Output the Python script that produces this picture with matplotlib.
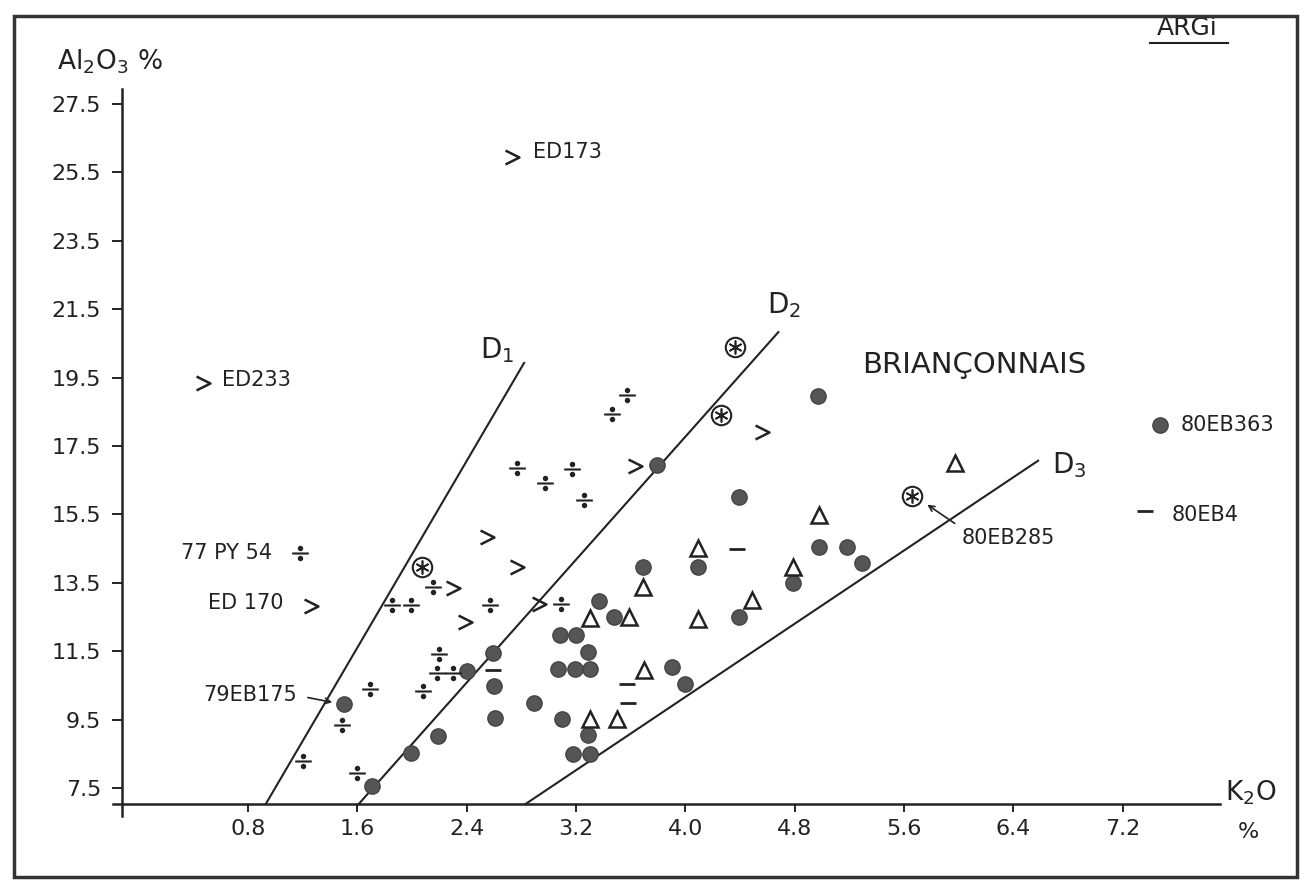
import matplotlib
matplotlib.use('Agg')
import matplotlib.pyplot as plt
from matplotlib.path import Path

# data: K2O % (x) and Al2O3 % (y) per symbol
circle_k = [1.50, 1.71, 1.99, 2.19, 2.40, 2.59, 2.60, 2.61, 2.89, 3.10, 3.29, 3.18,
            3.30, 3.08, 3.20, 3.29, 3.07, 3.19, 3.30, 3.37, 3.48, 3.69, 4.09, 3.90,
            4.00, 4.39, 4.39, 3.79, 4.97, 4.79, 4.98, 5.18, 5.29, 7.47]
circle_a = [9.96, 7.56, 8.52, 9.02, 10.92, 11.45, 10.48, 9.55, 9.99, 9.52, 9.05, 8.49,
            8.49, 11.97, 11.97, 11.48, 10.98, 10.98, 10.98, 12.97, 12.50, 13.96, 13.96, 11.04,
            10.54, 12.50, 16.01, 16.94, 18.96, 13.49, 14.55, 14.55, 14.08, 18.11]

tri_k = [4.09, 3.69, 3.30, 3.59, 4.09, 4.49, 4.79, 4.98, 5.97, 3.70, 3.30, 3.50]
tri_a = [14.52, 13.38, 12.47, 12.50, 12.44, 13.00, 13.96, 15.48, 17.00, 10.95, 9.52, 9.52]

div_k = [1.18, 1.85, 1.99, 2.15, 2.57, 3.09, 2.20, 2.18, 2.30, 2.08, 1.69, 1.49,
         1.20, 1.60, 2.77, 2.97, 3.17, 3.26, 3.46, 3.57]
div_a = [14.37, 12.85, 12.85, 13.38, 12.85, 12.88, 11.42, 10.86, 10.86, 10.34, 10.39, 9.34,
         8.29, 7.94, 16.86, 16.42, 16.83, 15.92, 18.44, 18.99]

chev_k = [2.73, 0.47, 1.26, 2.30, 2.55, 2.77, 2.39, 2.93, 3.63, 4.56]
chev_a = [25.95, 19.34, 12.82, 13.35, 14.84, 13.96, 12.35, 12.88, 16.92, 17.91]

star_k = [2.07, 4.36, 4.26, 5.66]
star_a = [13.96, 20.39, 18.41, 16.04]

dash_k = [2.59, 4.38, 3.57, 3.58, 7.36]
dash_a = [10.95, 14.49, 10.54, 9.99, 15.60]

# boundary lines D1, D2, D3
d1_k, d1_a = [0.93, 2.82], [7.03, 19.93]
d2_k, d2_a = [1.61, 4.68], [7.03, 20.83]
d3_k, d3_a = [2.83, 6.58], [7.03, 17.07]

x_ticks = [0.8, 1.6, 2.4, 3.2, 4.0, 4.8, 5.6, 6.4, 7.2]
y_ticks = [7.5, 9.5, 11.5, 13.5, 15.5, 17.5, 19.5, 21.5, 23.5, 25.5, 27.5]

ink = '#222222'
plt.rcParams['font.family'] = ['DejaVu Sans']

fig = plt.figure(figsize=(13, 8.82), dpi=100)
fig.patch.set_facecolor('white')
ax = fig.add_axes([0, 0, 1, 1])
ax.set_xlim(-1.014, 8.496)
ax.set_ylim(4.751, 30.541)

# axes drawn as crossing lines
for s in ['top', 'right']:
    ax.spines[s].set_visible(False)
ax.spines['left'].set_position(('data', -0.12))
ax.spines['left'].set_bounds(6.68, 27.94)
ax.spines['bottom'].set_position(('data', 7.03))
ax.spines['bottom'].set_bounds(-0.19, 7.91)
for s in ['left', 'bottom']:
    ax.spines[s].set_linewidth(1.8)
    ax.spines[s].set_color(ink)
ax.set_xticks(x_ticks)
ax.set_yticks(y_ticks)
ax.set_xticklabels([f'{v:.1f}' for v in x_ticks])
ax.set_yticklabels([f'{v:.1f}' for v in y_ticks])
ax.tick_params(axis='x', direction='out', length=6, width=1.4, pad=5, labelsize=16, colors=ink)
ax.tick_params(axis='y', direction='out', length=7, width=1.4, pad=8, labelsize=16, colors=ink)

# boundary lines
for k, a in [(d1_k, d1_a), (d2_k, d2_a), (d3_k, d3_a)]:
    ax.plot(k, a, color=ink, lw=1.5, zorder=2)

# marker shapes: chevron and division sign
chevron = Path([(-1, 1), (1, 0), (-1, -1)], [Path.MOVETO, Path.LINETO, Path.LINETO])
divide = Path.make_compound_path(
    Path([(-1, 0), (1, 0)], [Path.MOVETO, Path.LINETO]),
    Path.circle((0, 0.6), 0.2),
    Path.circle((0, -0.6), 0.2))

ax.plot(circle_k, circle_a, 'o', ms=11, mfc='#555555', mec='#444444', mew=1, zorder=3)
ax.plot(tri_k, tri_a, '^', ms=11, mfc='white', mec=ink, mew=1.8, zorder=3)
ax.plot(div_k, div_a, ls='none', marker=divide, ms=12, mfc=ink, mec=ink, mew=1.5, zorder=3)
ax.plot(chev_k, chev_a, ls='none', marker=chevron, ms=10, mfc='none', mec=ink, mew=1.8, zorder=3)
ax.plot(star_k, star_a, 'o', ms=14, mfc='white', mec=ink, mew=1.5, zorder=3)
ax.plot(star_k, star_a, ls='none', marker=(6, 2, 0), ms=10, mec=ink, mew=1.2, zorder=4)
ax.plot(dash_k, dash_a, ls='none', marker='_', ms=12, mec=ink, mew=2, zorder=3)

# labels
lab = dict(fontsize=15, color=ink, va='center')
ax.text(2.885, 26.10, 'ED173', ha='left', **lab)
ax.text(0.61, 19.43, 'ED233', ha='left', **lab)
ax.text(0.975, 14.37, '77 PY 54', ha='right', **lab)
ax.text(1.057, 12.91, 'ED 170', ha='right', **lab)
ax.text(1.159, 10.22, '79EB175', ha='right', **lab)
ax.text(6.02, 14.81, '80EB285', ha='left', **lab)
ax.text(7.62, 18.11, '80EB363', ha='left', **lab)
ax.text(7.56, 15.48, '80EB4', ha='left', **lab)
ax.annotate('', xy=(1.437, 9.99), xytext=(1.218, 10.16),
            arrowprops=dict(arrowstyle='->', color=ink, lw=1.2))
ax.annotate('', xy=(5.753, 15.83), xytext=(5.987, 15.19),
            arrowprops=dict(arrowstyle='->', color=ink, lw=1.2))

ax.text(2.50, 20.31, r'$\mathregular{D_1}$', fontsize=20, color=ink, ha='left', va='center')
ax.text(4.60, 21.62, r'$\mathregular{D_2}$', fontsize=20, color=ink, ha='left', va='center')
ax.text(6.68, 16.94, r'$\mathregular{D_3}$', fontsize=20, color=ink, ha='left', va='center')
ax.text(5.29, 19.87, 'BRIANÇONNAIS', fontsize=21, color=ink, ha='left', va='center')

ax.text(-0.60, 28.75, r'$\mathregular{Al_2O_3}$ %', fontsize=19, color=ink, ha='left', va='center')
ax.text(7.95, 7.35, r'$\mathregular{K_2O}$', fontsize=19, color=ink, ha='left', va='center')
ax.text(8.12, 6.21, '%', fontsize=16, color=ink, ha='center', va='center')

ax.text(7.67, 29.72, 'ARGi', fontsize=18, color=ink, ha='center', va='center')
ax.plot([7.40, 7.97], [29.28, 29.28], color=ink, lw=1.5)

# frame around the sheet
fig.add_artist(plt.Rectangle((14 / 1300, 5 / 882), 1283 / 1300, 861 / 882,
                             transform=fig.transFigure, fill=False, lw=2.5, ec='#333333'))

plt.savefig('out.png', dpi=100, facecolor='white')
